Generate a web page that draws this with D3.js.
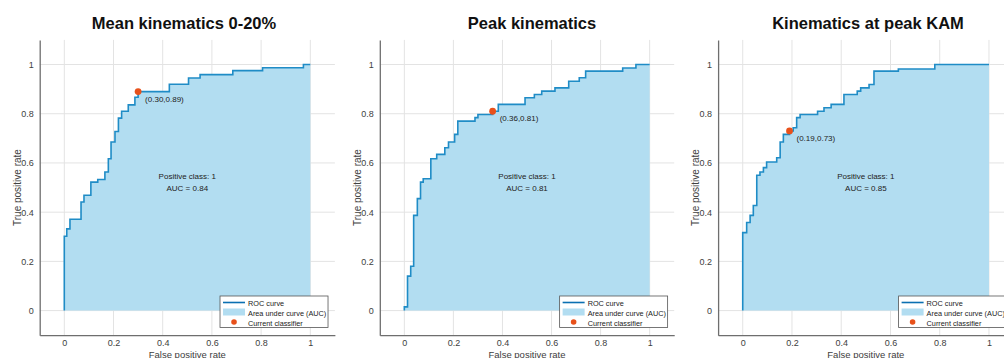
<!DOCTYPE html>
<html>
<head>
<meta charset="utf-8">
<script src="https://cdn.jsdelivr.net/npm/d3@7"></script>
<style>
  body { margin: 0; background: #fff; }
  svg { font-family: "Liberation Sans", Arial, sans-serif; }
</style>
</head>
<body>
<div id="chart"></div>
<script>
// Data
var titles = ["Mean kinematics 0-20%", "Peak kinematics", "Kinematics at peak KAM"];
var aucValues = [0.84, 0.81, 0.85];
var tickValues = [0, 0.2, 0.4, 0.6, 0.8, 1];
var tickLabels = ["0", "0.2", "0.4", "0.6", "0.8", "1"];
var legendLabels = ["ROC curve", "Area under curve (AUC)", "Current classifier"];

// ROC vertices (rise to tpr at fpr, then run flat)
var meanFpr = [0, 0, 0.01, 0.023, 0.068, 0.08, 0.108, 0.136, 0.165, 0.179, 0.19, 0.206, 0.22, 0.233, 0.26, 0.287, 0.30, 0.427, 0.505, 0.552, 0.685, 0.806, 0.972, 1.0];
var meanTpr = [0, 0.302, 0.332, 0.371, 0.441, 0.469, 0.522, 0.533, 0.563, 0.617, 0.685, 0.728, 0.782, 0.81, 0.836, 0.867, 0.89, 0.92, 0.945, 0.959, 0.975, 0.987, 1.0, 1.0];

var peakFpr = [0, 0, 0.013, 0.026, 0.038, 0.053, 0.066, 0.077, 0.108, 0.132, 0.165, 0.18, 0.205, 0.218, 0.288, 0.30, 0.36, 0.383, 0.492, 0.53, 0.56, 0.614, 0.67, 0.713, 0.739, 0.89, 0.944, 1.0];
var peakTpr = [0, 0.015, 0.14, 0.18, 0.387, 0.455, 0.522, 0.536, 0.617, 0.635, 0.662, 0.685, 0.716, 0.77, 0.784, 0.797, 0.81, 0.838, 0.865, 0.878, 0.892, 0.905, 0.932, 0.946, 0.973, 0.986, 1.0, 1.0];

var kamFpr = [0, 0, 0.016, 0.03, 0.043, 0.057, 0.07, 0.084, 0.097, 0.138, 0.152, 0.165, 0.19, 0.205, 0.219, 0.233, 0.304, 0.33, 0.359, 0.411, 0.465, 0.479, 0.513, 0.533, 0.632, 0.78, 1.0];
var kamTpr = [0, 0.317, 0.358, 0.387, 0.427, 0.55, 0.563, 0.581, 0.604, 0.621, 0.685, 0.716, 0.73, 0.743, 0.784, 0.797, 0.81, 0.824, 0.838, 0.878, 0.892, 0.905, 0.919, 0.973, 0.982, 1.0, 1.0];

// current classifier points
var opFpr = [0.30, 0.36, 0.19];
var opTpr = [0.89, 0.81, 0.73];

var rocFpr = [meanFpr, peakFpr, kamFpr];
var rocTpr = [meanTpr, peakTpr, kamTpr];

// pixel layout of each axes box
var panelLeft = [39.7, 379.8, 718.1];
var panelRight = [334.9, 674.2, 1013.6];
var titleX = [184, 532, 868];

var width = 1004, height = 358;
var lineColor = "#1f8cc6", areaColor = "#b2ddf1", dotColor = "#e8511b";
var gridColor = "#e3e3e3", axisColor = "#6e6e6e", textColor = "#404040";

var svg = d3.select("#chart").append("svg")
    .attr("width", width)
    .attr("height", height);

var y = d3.scaleLinear().domain([-0.1, 1.1]).range([335.2, 39.9]);

titles.forEach(function (title, p) {
    var x = d3.scaleLinear().domain([-0.1, 1.1]).range([panelLeft[p], panelRight[p]]);
    var g = svg.append("g");
    var pts = rocFpr[p].map(function (v, i) { return [v, rocTpr[p][i]]; });

    // grid
    g.selectAll(".gx").data(tickValues).enter().append("line")
        .attr("x1", d => x(d)).attr("x2", d => x(d))
        .attr("y1", y(1.1)).attr("y2", y(-0.1))
        .attr("stroke", gridColor).attr("stroke-width", 1);
    g.selectAll(".gy").data(tickValues).enter().append("line")
        .attr("x1", x(-0.1)).attr("x2", x(1.1))
        .attr("y1", d => y(d)).attr("y2", d => y(d))
        .attr("stroke", gridColor).attr("stroke-width", 1);

    // area under curve
    var area = d3.area()
        .x(d => x(d[0]))
        .y0(y(0))
        .y1(d => y(d[1]))
        .curve(d3.curveStepAfter);
    g.append("path").datum(pts)
        .attr("d", area)
        .attr("fill", areaColor);

    var line = d3.line()
        .x(d => x(d[0]))
        .y(d => y(d[1]))
        .curve(d3.curveStepAfter);
    g.append("path").datum(pts)
        .attr("d", line)
        .attr("fill", "none")
        .attr("stroke", lineColor)
        .attr("stroke-width", 1.6);

    // axes (left and bottom only)
    var xAxis = d3.axisBottom(x).tickValues(tickValues)
        .tickFormat((d, i) => tickLabels[i]).tickSize(0).tickPadding(4);
    var yAxis = d3.axisLeft(y).tickValues(tickValues)
        .tickFormat((d, i) => tickLabels[i]).tickSize(0).tickPadding(6);
    var ax = g.append("g")
        .attr("transform", "translate(0," + y(-0.1) + ")")
        .call(xAxis);
    var ay = g.append("g")
        .attr("transform", "translate(" + x(-0.1) + ",0)")
        .call(yAxis);
    [ax, ay].forEach(function (a) {
        a.select(".domain").attr("stroke", axisColor).attr("stroke-width", 1.3);
        a.selectAll("text").attr("fill", textColor).style("font-size", "9px")
            .style("font-family", "Liberation Sans, Arial, sans-serif");
    });

    // axis titles
    g.append("text")
        .attr("x", x(0.5)).attr("y", 357.5)
        .attr("text-anchor", "middle")
        .attr("fill", textColor)
        .style("font-size", "9.5px")
        .text("False positive rate");
    g.append("text")
        .attr("transform", "translate(" + (x(-0.1) - 19) + "," + y(0.5) + ") rotate(-90)")
        .attr("text-anchor", "middle")
        .attr("fill", textColor)
        .style("font-size", "10px")
        .text("True positive rate");

    // title
    g.append("text")
        .attr("x", titleX[p]).attr("y", 29)
        .attr("text-anchor", "middle")
        .attr("fill", "#111")
        .style("font-size", "16.5px")
        .style("font-weight", "bold")
        .text(title);

    // annotations
    g.append("text")
        .attr("x", x(0.5)).attr("y", y(0.535))
        .attr("text-anchor", "middle")
        .attr("fill", "#222")
        .style("font-size", "8px")
        .text("Positive class: 1");
    g.append("text")
        .attr("x", x(0.5)).attr("y", y(0.488))
        .attr("text-anchor", "middle")
        .attr("fill", "#222")
        .style("font-size", "8px")
        .text("AUC = " + aucValues[p].toFixed(2));

    // current classifier
    g.append("circle")
        .attr("cx", x(opFpr[p])).attr("cy", y(opTpr[p]))
        .attr("r", 3.4)
        .attr("fill", dotColor);
    g.append("text")
        .attr("x", x(opFpr[p]) + 7).attr("y", y(opTpr[p]) + 10)
        .attr("fill", "#222")
        .style("font-size", "8px")
        .text("(" + opFpr[p].toFixed(2) + "," + opTpr[p].toFixed(2) + ")");

    // legend
    var lx = x(0.633), ly = 296;
    var leg = g.append("g").attr("transform", "translate(" + lx + "," + ly + ")");
    leg.append("rect")
        .attr("width", 108).attr("height", 31.5)
        .attr("fill", "#fff")
        .attr("stroke", "#555").attr("stroke-width", 0.8);
    leg.append("line")
        .attr("x1", 3).attr("x2", 25).attr("y1", 6.5).attr("y2", 6.5)
        .attr("stroke", "#0b70b2").attr("stroke-width", 1.6);
    leg.append("rect")
        .attr("x", 3).attr("y", 12.5).attr("width", 22).attr("height", 7)
        .attr("fill", areaColor);
    leg.append("circle")
        .attr("cx", 14).attr("cy", 26).attr("r", 2.8)
        .attr("fill", dotColor);
    leg.selectAll(".lt").data(legendLabels).enter().append("text")
        .attr("x", 28)
        .attr("y", (d, i) => 9.5 + i * 10)
        .attr("fill", "#222")
        .style("font-size", "7.3px")
        .text(d => d);
});
</script>
</body>
</html>
